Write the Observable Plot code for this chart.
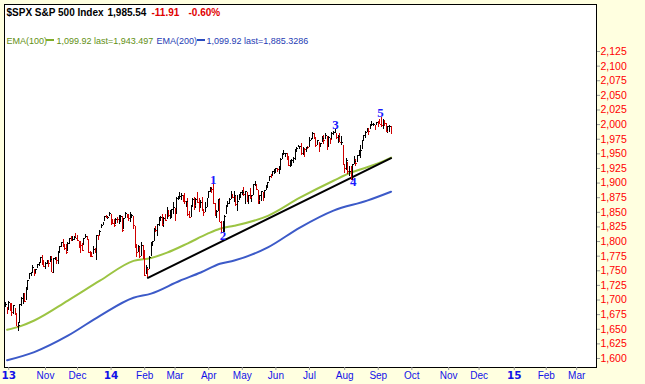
<!DOCTYPE html>
<html><head><meta charset="utf-8">
<script src="https://cdn.jsdelivr.net/npm/d3@7"></script>
<script src="https://cdn.jsdelivr.net/npm/@observablehq/plot@0.6"></script>
<style>
html,body{margin:0;padding:0;background:#ffffe0;}
#chart svg{display:block;}
</style></head>
<body><div id="chart"></div>
<script>
// Daily bars, trading-day index 0 = 27 Sep 2013 ... 241 = 12 Sep 2014
const closes = [
  1692,1682,
  1695,1694,1679,1691,1676,1655,1656,1693,1703,1710,1698,1722,1733,1745,1745,1755,1746,1752,1760,1762,1772,1763,1757,
  1762,1768,1763,1770,1747,1771,1772,1768,1782,1791,1798,1792,1788,1781,1796,1805,1802,1803,1807,1806,
  1801,1795,1793,1785,1805,1808,1803,1782,1776,1775,1787,1781,1811,1810,1818,1828,1833,1842,1841,1841,1848,
  1832,1831,1827,1838,1837,1838,1842,1819,1839,1848,1846,1839,1844,1845,1828,1790,1782,1792,1774,1794,1783,
  1742,1755,1752,1773,1797,1800,1820,1819,1830,1839,1841,1829,1840,1836,1848,1845,1845,1854,1859,
  1846,1874,1874,1877,1878,1877,1868,1868,1846,1841,1859,1872,1861,1872,1867,1857,1866,1853,1849,1858,1872,
  1886,1891,1889,1865,1845,1852,1872,1833,1816,1831,1843,1862,1865,1872,1880,1875,1879,1863,1869,1878,1884,
  1884,1881,1885,1868,1878,1876,1878,1897,1897,1889,1871,1878,1885,1873,1888,1892,1901,1912,1910,1920,1924,
  1925,1924,1928,1940,1949,1951,1951,1944,1930,1936,1938,1942,1957,1959,1963,1963,1950,1960,1957,1961,1960,
  1973,1975,1985,1978,1964,1973,1965,1968,1977,1973,1982,1958,1978,1974,1984,1987,1988,1978,1979,1970,1970,1931,
  1925,1939,1920,1920,1910,1932,1937,1934,1947,1955,1955,1972,1982,1987,1992,1988,1998,2000,2000,1997,2003,
  2002,2001,1998,2008,2002,1988,1996,1997,1986
];
const highs = [
  1695,1687,
  1697,1694,1692,1691,1685,1677,1662,1693,1704,1711,1711,1722,1734,1745,1747,1759,1752,1753,1760,1764,1772,1776,1768,
  1765,1768,1767,1774,1774,1771,1773,1772,1783,1791,1798,1803,1795,1795,1798,1805,1808,1808,1808,1814,
  1810,1800,1800,1796,1806,1812,1808,1803,1783,1781,1792,1788,1811,1811,1819,1829,1833,1842,1844,1843,1849,
  1846,1838,1837,1840,1841,1844,1844,1843,1839,1850,1847,1846,1849,1847,1842,1826,1795,1793,1790,1798,1793,
  1785,1759,1756,1774,1798,1800,1823,1826,1830,1841,1843,1847,1841,1847,1858,1853,1853,1855,1867,
  1857,1876,1877,1884,1883,1878,1882,1869,1874,1852,1862,1873,1875,1874,1884,1873,1870,1875,1855,1866,1873,
  1886,1893,1893,1897,1865,1853,1872,1873,1835,1834,1844,1862,1869,1873,1885,1880,1885,1878,1878,1880,1884,
  1888,1892,1885,1884,1879,1890,1879,1897,1903,1898,1888,1878,1886,1884,1888,1896,1901,1912,1914,1920,1924,
  1925,1925,1929,1942,1950,1956,1951,1950,1945,1938,1941,1944,1957,1960,1964,1963,1968,1961,1959,1961,1963,
  1978,1976,1986,1984,1977,1973,1969,1968,1979,1982,1984,1979,1980,1977,1986,1989,1991,1984,1982,1985,1980,1965,
  1932,1942,1936,1928,1928,1932,1945,1940,1948,1956,1964,1972,1982,1988,1994,1994,2001,2005,2002,1998,2004,
  2006,2009,2012,2008,2007,2002,1996,1998,1997
];
const lows = [
  1687,1675,
  1682,1680,1671,1676,1674,1655,1646,1660,1689,1692,1695,1700,1716,1735,1740,1746,1740,1746,1754,1757,1762,1759,1755,
  1752,1761,1755,1764,1747,1745,1767,1761,1760,1781,1790,1790,1784,1778,1783,1795,1800,1800,1802,1805,
  1800,1788,1780,1783,1793,1806,1801,1780,1772,1772,1777,1780,1767,1802,1809,1822,1828,1834,1839,1838,1842,
  1827,1829,1824,1829,1831,1830,1832,1815,1821,1840,1840,1835,1833,1840,1820,1790,1773,1782,1771,1775,1770,
  1740,1744,1738,1753,1774,1792,1800,1815,1809,1825,1834,1826,1824,1835,1837,1841,1838,1839,1847,
  1835,1846,1871,1874,1871,1867,1864,1858,1842,1840,1841,1859,1853,1856,1866,1850,1856,1852,1842,1850,1858,
  1873,1884,1883,1863,1842,1840,1852,1833,1814,1816,1816,1846,1858,1863,1872,1873,1866,1860,1851,1870,1873,
  1878,1877,1863,1867,1863,1872,1866,1879,1894,1887,1863,1864,1869,1868,1874,1887,1893,1902,1907,1912,1915,
  1916,1918,1915,1922,1941,1947,1944,1939,1928,1926,1929,1933,1938,1953,1960,1958,1948,1947,1944,1952,1958,
  1960,1972,1975,1975,1960,1964,1953,1960,1969,1966,1975,1955,1960,1966,1975,1982,1985,1974,1968,1970,1965,1930,
  1917,1922,1914,1911,1905,1904,1932,1928,1935,1946,1942,1958,1973,1976,1986,1982,1991,1998,1996,1990,1998,
  1995,2000,1995,1991,1996,1988,1984,1986,1983
];

// Moving averages (trading-day index, value)
const ema100Idx = [1, 9, 18, 39, 59, 80, 91, 101, 114, 126, 134, 143, 164, 184, 205, 216, 226, 239, 241];
const ema100Val = [1649, 1655, 1665, 1699, 1733, 1767, 1772, 1781, 1797, 1813, 1822, 1827, 1844, 1875, 1904, 1918, 1927, 1941, 1943.5];
const ema200Idx = [1, 18, 39, 59, 80, 91, 109, 122, 134, 143, 164, 184, 205, 226, 241];
const ema200Val = [1597, 1611, 1639, 1673, 1704, 1711, 1733, 1747, 1762, 1767.5, 1790, 1824, 1853, 1870, 1885.3];

// Trendline
const trendIdx = [89, 241];
const trendVal = [1738, 1942.5];

// Wave count labels
const waveText = ["1", "2", "3", "4", "5"];
const waveIdx = [129.8, 136, 206.3, 217.3, 234.4];
const waveVal = [1906, 1810, 2000, 1901.5, 2020];

// Month axis (trading-day index of first session of each month)
const monthIdx = [2, 25, 45, 66, 87, 106, 127, 148, 169, 190, 212, 233, 254, 277, 296, 318, 338, 357];
const monthLabels = ["13", "Nov", "Dec", "14", "Feb", "Mar", "Apr", "May", "Jun", "Jul", "Aug", "Sep", "Oct", "Nov", "Dec", "15", "Feb", "Mar"];
const yTicks = d3.range(1600, 2126, 25);

// Header texts
const titleParts = ["$SPX S&P 500 Index", "1,985.54", "-11.91", "-0.60%"];
const legendParts = ["EMA(100)", "1,099.92 last=1,943.497", "EMA(200)", "1,099.92 last=1,885.3286"];

const n = Math.min(closes.length, highs.length, lows.length);
const bars = d3.range(n).map(i => ({i, high: highs[i], low: lows[i], close: closes[i],
  col: (i === 0 || closes[i] >= closes[i - 1]) ? "#000000" : "#d00000"}));
const ema100 = ema100Idx.map((i, k) => ({i, v: ema100Val[k]}));
const ema200 = ema200Idx.map((i, k) => ({i, v: ema200Val[k]}));
const trend = trendIdx.map((i, k) => ({i, v: trendVal[k]}));
const waves = waveText.map((t, k) => ({t, i: waveIdx[k], v: waveVal[k]}));
const months = monthIdx.map((i, k) => ({i, label: monthLabels[k], year: /^\d+$/.test(monthLabels[k])}));

const axisBlue = "#1212e8";
const sans = "'Liberation Sans', Arial, sans-serif";
const head = (txt, dx, dy, fill, extra) => Plot.text([txt], Object.assign({frameAnchor: "top-left", dx, dy,
  textAnchor: "start", lineAnchor: "bottom", fill, fontFamily: sans}, extra));

const plot = Plot.plot({
  width: 645, height: 384,
  marginLeft: 4, marginRight: 49, marginTop: 4, marginBottom: 17,
  style: {background: "#ffffe0", fontFamily: sans, fontSize: "10px", overflow: "visible"},
  x: {type: "linear", domain: [-0.625, 369.4], axis: null},
  y: {type: "linear", domain: [1584.6, 2205.4], axis: null},
  color: {type: "identity"},
  marks: [
    Plot.frame({fill: "white", stroke: null}),
    Plot.line(ema200, {x: "i", y: "v", stroke: "#3c5ac8", strokeWidth: 2, curve: "monotone-x"}),
    Plot.line(ema100, {x: "i", y: "v", stroke: "#9cc443", strokeWidth: 2, curve: "monotone-x"}),
    Plot.line(trend, {x: "i", y: "v", stroke: "#000", strokeWidth: 2}),
    Plot.ruleX(bars, {x: "i", y1: "low", y2: "high", stroke: "col", strokeWidth: 1, shapeRendering: "crispEdges"}),
    Plot.link(bars, {x1: "i", x2: d => d.i + 0.8, y1: "close", y2: "close", stroke: "col", strokeWidth: 1, shapeRendering: "crispEdges"}),
    Plot.text(waves, {x: "i", y: "v", text: "t", fill: "#1a1aff", fontWeight: "bold", fontSize: 13,
      fontFamily: "'Liberation Serif', 'Times New Roman', serif"}),
    Plot.frame({stroke: "#000", strokeWidth: 1}),
    Plot.axisY({anchor: "right", ticks: yTicks, tickFormat: d3.format(","), tickSize: 3, tickPadding: 1,
      color: "#ff0000", stroke: "#999", fontSize: 10.5, label: null}),
    Plot.axisX({anchor: "bottom", ticks: monthIdx, tickSize: 3, tickFormat: () => "", stroke: "#999", label: null}),
    Plot.text(months.filter(d => !d.year), {x: "i", text: "label", frameAnchor: "bottom", lineAnchor: "top", dy: 4,
      fill: axisBlue, fontSize: 10}),
    Plot.text(months.filter(d => d.year), {x: "i", text: "label", frameAnchor: "bottom", lineAnchor: "top", dy: 4,
      fill: axisBlue, fontSize: 10.5, fontWeight: "bold", fontFamily: "'DejaVu Sans', sans-serif"}),
    // title
    head(titleParts[0], 2, 11.5, "#000", {fontWeight: "bold", fontSize: 10}),
    head(titleParts[1], 103, 11.5, "#000", {fontWeight: "bold", fontSize: 10}),
    head(titleParts[2], 147, 11.5, "#e00000", {fontWeight: "bold", fontSize: 10}),
    head(titleParts[3], 184, 11.5, "#e00000", {fontWeight: "bold", fontSize: 10}),
    // legend
    head(legendParts[0], 2, 39.5, "#5f8f14", {fontSize: 9}),
    head(legendParts[1], 52, 39.5, "#5f8f14", {fontSize: 9}),
    head(legendParts[2], 152, 39.5, "#1e3cb4", {fontSize: 9}),
    head(legendParts[3], 202, 39.5, "#1e3cb4", {fontSize: 9})
  ]
});
// legend line swatches
const svg = d3.select(plot);
svg.append("line").attr("x1", 46).attr("x2", 54).attr("y1", 40).attr("y2", 40)
  .attr("stroke", "#7fae2a").attr("stroke-width", 2);
svg.append("line").attr("x1", 197).attr("x2", 205).attr("y1", 40).attr("y2", 40)
  .attr("stroke", "#2a4bbf").attr("stroke-width", 2);
document.getElementById("chart").appendChild(plot);
</script>
</body></html>
